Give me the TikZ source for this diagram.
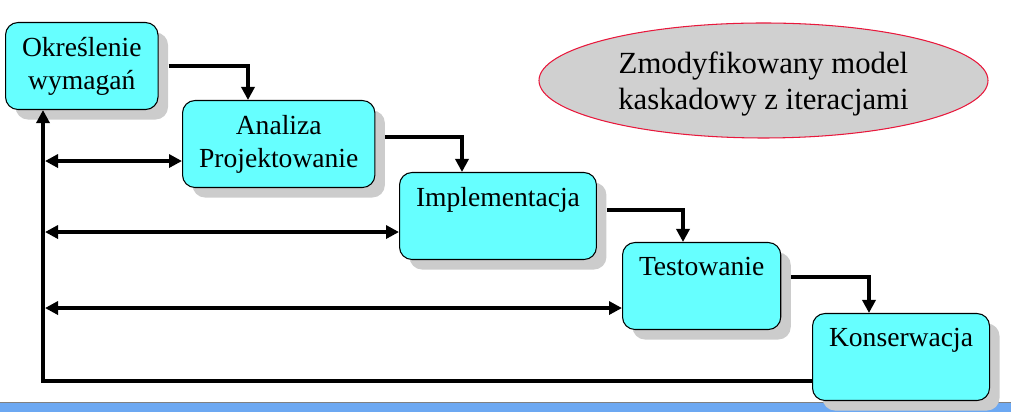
\documentclass[tikz,border=0pt]{standalone}
\usepackage{fontspec}
\setmainfont{Liberation Serif}
\usetikzlibrary{shapes.geometric,arrows.meta,shadows}
\definecolor{aquafill}{RGB}{102,255,255}
\definecolor{shadowgrey}{RGB}{204,204,204}
\definecolor{ovalgrey}{RGB}{208,208,208}
\definecolor{ovalred}{RGB}{232,24,60}
\definecolor{stripblue}{RGB}{108,168,242}

\begin{document}
\begin{tikzpicture}[
    stage/.style={rectangle, draw=black, line width=0.6pt, fill=aquafill, rounded corners=0.25cm, minimum height=1.74cm, inner xsep=0.33cm, align=center, anchor=north west, font=\fontsize{15.7}{18.8}\selectfont, drop shadow={shadow xshift=0.2cm, shadow yshift=-0.2cm, fill=shadowgrey, opacity=1}},
    oneline/.style={text depth=0.78cm},
    flow/.style={-{Triangle[length=0.26cm,width=0.26cm]}, line width=0.08cm},
    both/.style={{Triangle[length=0.26cm,width=0.26cm]}-{Triangle[length=0.26cm,width=0.26cm]}, line width=0.08cm}]

    \useasboundingbox (0,0) rectangle (20.22,-8.24);
    \fill[stripblue] (0,-8.04) rectangle (20.22,-8.24);
    \draw[gray, line width=0.5pt] (0,-8.04) -- (20.22,-8.04);

    \node[stage] (ok) at (0.1,-0.44) {Określenie\\wymagań};
    \node[stage] (an) at (3.64,-2.0) {Analiza\\Projektowanie};
    \node[stage, oneline] (im) at (7.98,-3.44) {Implementacja};
    \node[stage, oneline] (te) at (12.44,-4.84) {Testowanie};
    \node[stage, oneline] (ks) at (16.24,-6.26) {Konserwacja};
    \node[ellipse, draw=ovalred, line width=0.6pt, fill=ovalgrey, minimum width=8.98cm, minimum height=2.3cm, inner sep=0pt, align=center, text depth=0pt, font=\fontsize{17.5}{20.2}\selectfont] (title) at (15.27,-1.61) {Zmodyfikowany model\\kaskadowy z iteracjami};

    % cascade
    \draw[flow] ([xshift=0.2cm]ok.east) -| ([xshift=1.32cm]an.north west);
    \draw[flow] ([xshift=0.2cm,yshift=0.14cm]an.east) -| ([xshift=1.26cm]im.north west);
    \draw[flow] ([xshift=0.2cm,yshift=0.12cm]im.east) -| ([xshift=1.22cm]te.north west);
    \draw[flow] ([xshift=0.2cm,yshift=0.18cm]te.east) -| ([xshift=1.14cm]ks.north west);

    % iterations
    \coordinate (vx) at ([xshift=0.76cm]ok.south west);
    \coordinate (lx) at ([xshift=0.8cm]ok.south west);
    \coordinate (an-in) at ([yshift=-0.34cm]an.west);
    \coordinate (im-in) at ([yshift=-0.32cm]im.west);
    \coordinate (te-in) at ([yshift=-0.44cm]te.west);
    \coordinate (ks-out) at ([yshift=-0.47cm]ks.west);
    \draw[both] (lx |- an-in) -- (an-in);
    \draw[both] (lx |- im-in) -- (im-in);
    \draw[both] (lx |- te-in) -- (te-in);
    \draw[flow] (ks-out) -| (vx);
\end{tikzpicture}
\end{document}
